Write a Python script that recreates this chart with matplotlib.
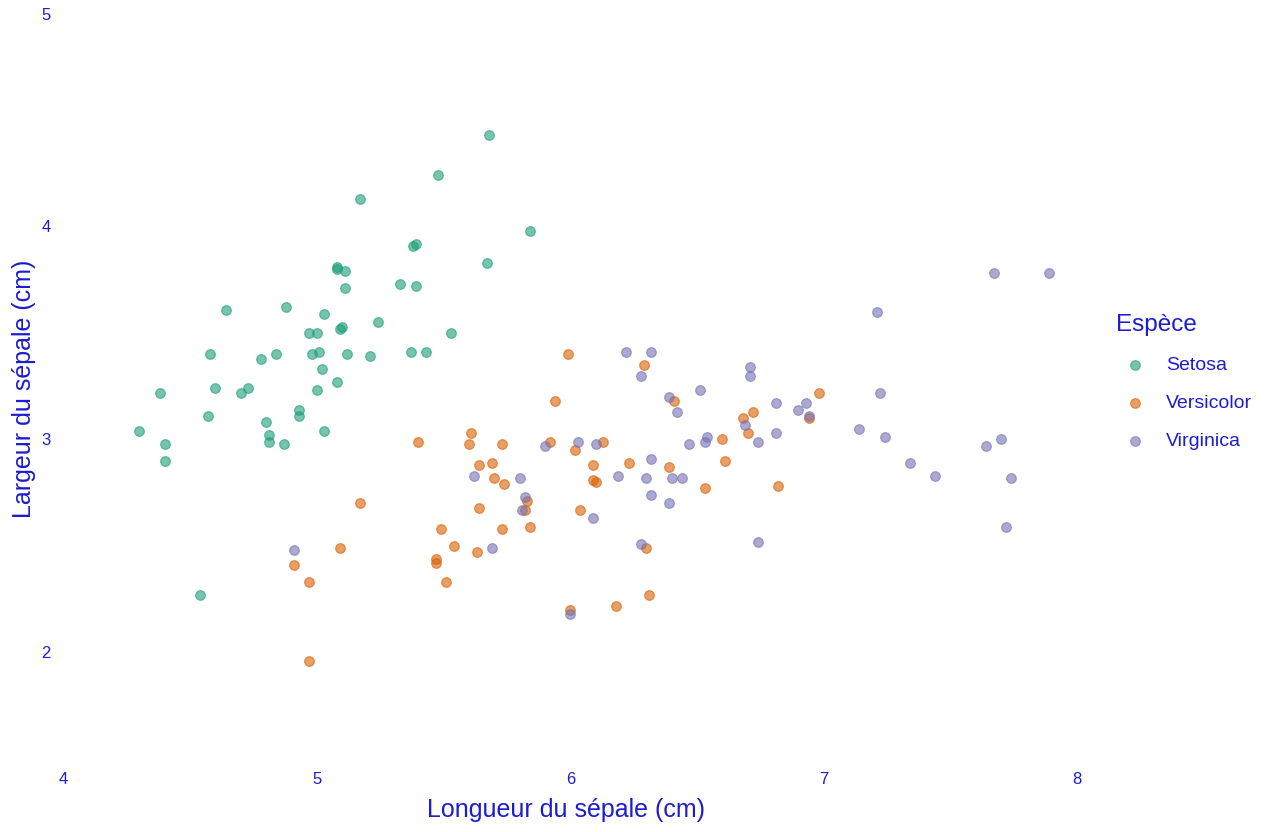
import matplotlib
matplotlib.use("Agg")
import matplotlib.pyplot as plt

plt.rcParams['font.family'] = ['Liberation Sans', 'DejaVu Sans']

TEXT_COLOR = '#1c1cd0'

species = ['Setosa', 'Versicolor', 'Virginica']
colors = ['#1B9E77', '#D95F02', '#7570B3']

# sepal length / width (jittered as in the picture)
setosa_x = [5.68, 5.48, 5.17, 5.84, 5.39, 5.38, 5.67, 5.08, 5.08, 5.11,
            5.11, 5.33, 5.39, 4.64, 4.88, 5.03, 5.10, 5.09, 5.24, 4.97,
            5.00, 5.53, 4.58, 4.78, 4.84, 4.98, 5.01, 5.12, 5.21, 5.37,
            5.43, 5.02, 4.38, 4.60, 4.70, 4.73, 5.00, 5.08, 4.57, 4.93,
            4.93, 4.80, 4.30, 4.40, 4.81, 4.81, 4.87, 5.03, 4.40, 4.54]
setosa_y = [4.43, 4.24, 4.13, 3.98, 3.92, 3.91, 3.83, 3.81, 3.80, 3.79,
            3.71, 3.73, 3.72, 3.61, 3.62, 3.59, 3.53, 3.52, 3.55, 3.50,
            3.50, 3.50, 3.40, 3.38, 3.40, 3.40, 3.41, 3.40, 3.39, 3.41,
            3.41, 3.33, 3.22, 3.24, 3.22, 3.24, 3.23, 3.27, 3.11, 3.14,
            3.11, 3.08, 3.04, 2.98, 3.02, 2.99, 2.98, 3.04, 2.90, 2.27]

versicolor_x = [5.94, 5.40, 5.61, 5.60, 5.73, 5.92, 5.64, 5.69, 5.70, 5.74,
                5.83, 5.17, 5.64, 5.49, 5.73, 5.84, 5.09, 5.54, 5.63, 5.47,
                5.47, 4.91, 4.97, 5.51, 4.97, 5.99, 6.29, 6.02, 6.13, 6.09,
                6.23, 6.09, 6.10, 6.04, 6.30, 6.31, 6.18, 6.00, 6.41, 6.68,
                6.72, 6.70, 6.60, 6.39, 6.61, 6.53, 6.82, 6.98, 6.94, 5.82]
versicolor_y = [3.18, 2.99, 3.03, 2.98, 2.98, 2.99, 2.88, 2.89, 2.82, 2.79,
                2.71, 2.70, 2.68, 2.58, 2.58, 2.59, 2.49, 2.50, 2.47, 2.44,
                2.42, 2.41, 2.33, 2.33, 1.96, 3.40, 3.35, 2.95, 2.99, 2.88,
                2.89, 2.81, 2.80, 2.67, 2.49, 2.27, 2.22, 2.20, 3.18, 3.10,
                3.13, 3.03, 3.00, 2.87, 2.90, 2.77, 2.78, 3.22, 3.10, 2.67]

virginica_x = [5.90, 5.62, 5.80, 5.82, 5.81, 5.69, 4.91, 6.22, 6.32, 6.28,
               6.03, 6.10, 6.32, 6.19, 6.30, 6.32, 6.09, 6.28, 6.00, 6.71,
               6.71, 6.51, 6.39, 6.42, 6.81, 6.90, 6.69, 6.74, 6.81, 6.47,
               6.53, 6.54, 6.40, 6.44, 6.39, 6.74, 7.21, 6.93, 6.94, 7.14,
               7.22, 7.24, 7.34, 7.67, 7.89, 7.44, 7.64, 7.70, 7.74, 7.72]
virginica_y = [2.97, 2.83, 2.82, 2.73, 2.67, 2.49, 2.48, 3.41, 3.41, 3.30,
               2.99, 2.98, 2.91, 2.83, 2.82, 2.74, 2.63, 2.51, 2.18, 3.34,
               3.30, 3.23, 3.20, 3.13, 3.17, 3.14, 3.07, 2.99, 3.03, 2.98,
               2.99, 3.01, 2.82, 2.82, 2.70, 2.52, 3.60, 3.17, 3.11, 3.05,
               3.22, 3.01, 2.89, 3.78, 3.78, 2.83, 2.97, 3.00, 2.82, 2.59]

xs = [setosa_x, versicolor_x, virginica_x]
ys = [setosa_y, versicolor_y, virginica_y]

fig = plt.figure(figsize=(12.8, 8.32), dpi=100)
ax = fig.add_axes([0.0495, 0.0813, 0.802, 0.9024])

for name, col, x, y in zip(species, colors, xs, ys):
    ax.scatter(x, y, s=48, facecolor=col, edgecolor=col, alpha=0.6,
               linewidths=0.9, label=name)

ax.set_xticks([4, 5, 6, 7, 8])
ax.set_yticks([2, 3, 4, 5])
ax.set_xlim(4, 8.05)
ax.set_ylim(1.474, 5.0)
for s in ax.spines.values():
    s.set_visible(False)
ax.tick_params(length=0, labelsize=12, colors=TEXT_COLOR)
ax.tick_params(axis='x', pad=5.5)
ax.tick_params(axis='y', pad=9)
ax.set_xlabel('Longueur du sépale (cm)', fontsize=18, color=TEXT_COLOR)
ax.xaxis.label.set_va('center')
ax.xaxis.set_label_coords(0.4896, -0.0607)
ax.set_ylabel('Largeur du sépale (cm)', fontsize=18, color=TEXT_COLOR, labelpad=4)

leg = fig.legend(loc='upper left', bbox_to_anchor=(0.858, 0.644), frameon=False,
                 title='Espèce', fontsize=14, title_fontsize=17.5,
                 labelspacing=1.05, handletextpad=0.58, markerscale=1.0)
leg._legend_box.align = 'left'
plt.setp(leg.get_texts(), color=TEXT_COLOR)
leg.get_title().set_color(TEXT_COLOR)

fig.savefig('out.png', dpi=100)
